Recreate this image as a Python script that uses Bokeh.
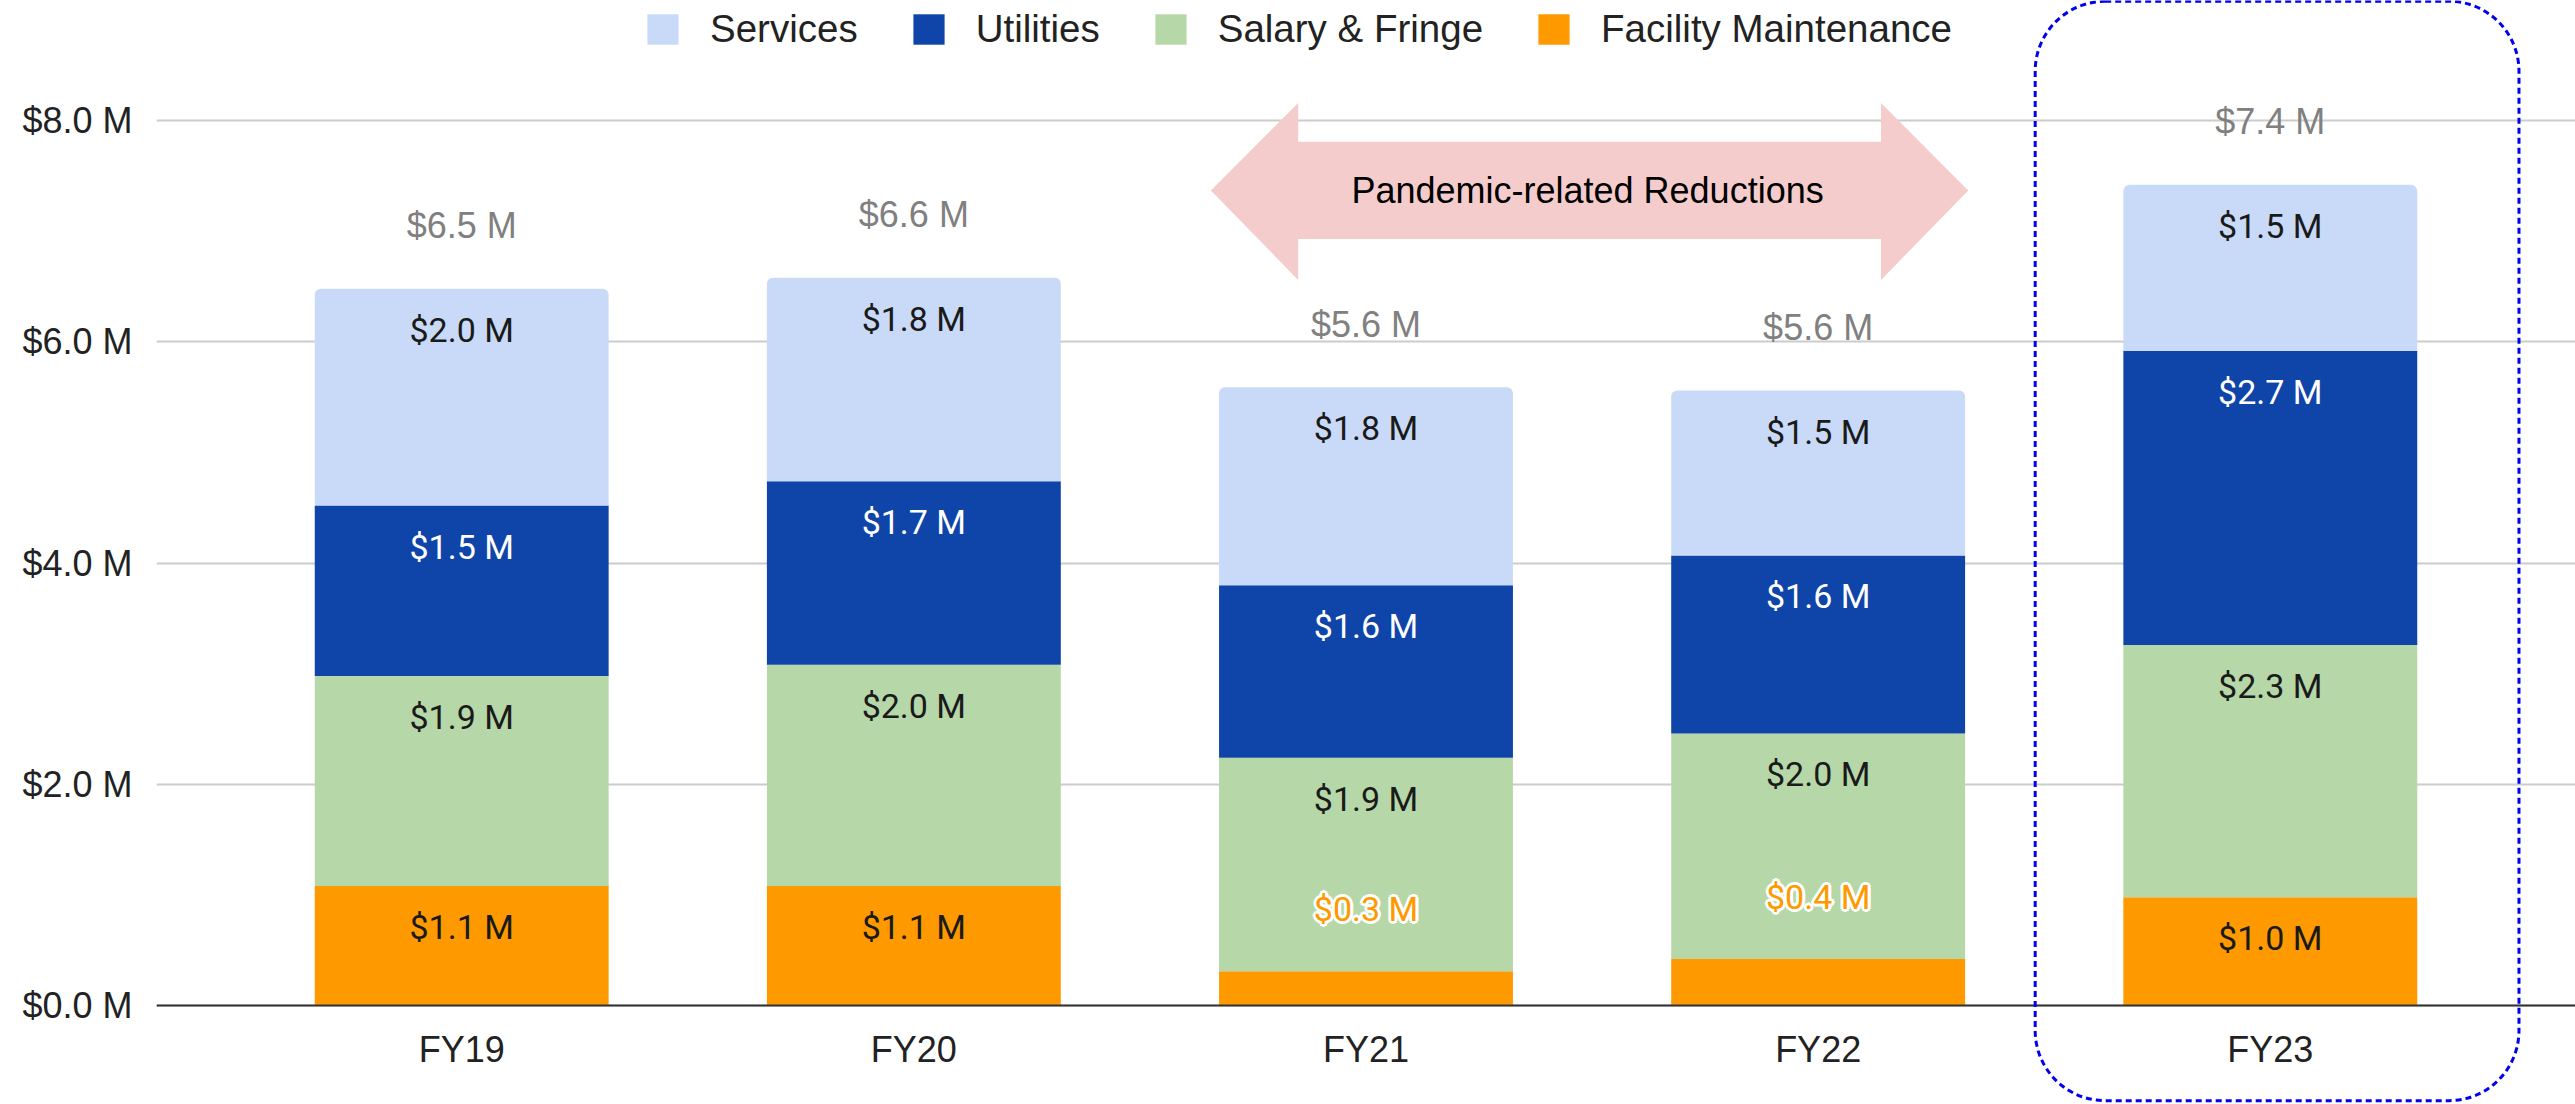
import pandas as pd
from bokeh.plotting import figure
from bokeh.models import (ColumnDataSource, Range1d, FixedTicker, PrintfTickFormatter,
                          Legend, LegendItem, BoxAnnotation)
from bokeh.core.properties import value
from bokeh.embed import file_html
from bokeh.resources import INLINE

# ---------------- data ----------------
years = ["FY19", "FY20", "FY21", "FY22", "FY23"]
facility = [1.08, 1.08, 0.31, 0.42, 0.98]
salary = [1.90, 2.00, 1.93, 2.04, 2.28]
utilities = [1.54, 1.66, 1.56, 1.61, 2.66]
services = [1.96, 1.84, 1.79, 1.49, 1.50]
series_names = ["Facility Maintenance", "Salary & Fringe", "Utilities", "Services"]
y_ticks = [0, 2, 4, 6, 8]
arrow_text = "Pandemic-related Reductions"

# ---------------- styles ----------------
colors = ["#ff9900", "#b6d7a8", "#0f44a8", "#c9daf8"]
label_colors = ["#1a1a1a", "#1a1a1a", "#ffffff", "#1a1a1a"]
FONT = "Liberation Sans"

xs = list(range(len(years)))
df = pd.DataFrame({"x": xs, "year": years,
                   series_names[0]: facility, series_names[1]: salary,
                   series_names[2]: utilities, series_names[3]: services})
src = ColumnDataSource(df)

p = figure(width=2575, height=1104, output_backend="svg", toolbar_location=None,
           x_range=Range1d(-0.675, 4.675), y_range=Range1d(-0.895, 9.087),
           min_border=0, min_border_left=156, min_border_bottom=0,
           min_border_top=0, min_border_right=0)
p.outline_line_color = None
p.background_fill_color = "white"
p.border_fill_color = "white"

# grid
p.xgrid.visible = False
p.ygrid.grid_line_color = "#cccccc"
p.ygrid.grid_line_width = 2
p.ygrid.ticker = FixedTicker(ticks=y_ticks)

# y axis
p.yaxis.ticker = FixedTicker(ticks=y_ticks)
p.yaxis.formatter = PrintfTickFormatter(format="$%.1f M")
p.yaxis.axis_line_color = None
p.yaxis.major_tick_line_color = None
p.yaxis.minor_tick_line_color = None
p.yaxis.major_label_standoff = 18
p.yaxis.major_label_text_font = FONT
p.yaxis.major_label_text_font_size = "36px"
p.yaxis.major_label_text_color = "#222222"

# x axis (fixed at the zero line)
p.xaxis.fixed_location = 0
p.xaxis.ticker = FixedTicker(ticks=xs)
p.xaxis.major_label_overrides = {i: y for i, y in zip(xs, years)}
p.xaxis.axis_line_color = "#333333"
p.xaxis.axis_line_width = 2
p.xaxis.major_tick_line_color = None
p.xaxis.minor_tick_line_color = None
p.xaxis.major_label_standoff = 17
p.xaxis.major_label_text_font = FONT
p.xaxis.major_label_text_font_size = "36px"
p.xaxis.major_label_text_color = "#222222"

# stacked bars
renderers = p.vbar_stack(series_names, x="x", width=0.65, color=colors,
                         line_color=None, source=src)
try:
    renderers[-1].glyph.border_radius = (6, 6, 0, 0)
except Exception:
    pass

# segment labels
lx, ly, lt, lc, lo = [], [], [], [], []
hx, hy, ht = [], [], []
cum = [0.0] * len(years)
for name, col in zip(series_names, label_colors):
    vals = df[name].tolist()
    for i, v in enumerate(vals):
        top = cum[i] + v
        txt = f"${v:.1f} M"
        lx.append(xs[i]); ly.append(top); lt.append(txt)
        if v < 0.5:
            lc.append("#ff9900"); lo.append(-62)
            hx.append(xs[i]); hy.append(top); ht.append(txt)
        else:
            lc.append(col); lo.append(41)
        cum[i] = top

# white halo behind labels placed above their (too small) segment
halo_src = ColumnDataSource(dict(x=hx, y=hy, text=ht))
for dx, dy in [(-3, 0), (3, 0), (0, -3), (0, 3), (-2, -2), (2, -2), (-2, 2), (2, 2)]:
    p.text(x="x", y="y", text="text", source=halo_src, x_offset=dx, y_offset=-62 + dy,
           text_align="center", text_baseline="middle", text_color="white",
           text_font=value("Roboto"), text_font_size="34px")

lab_src = ColumnDataSource(dict(x=lx, y=ly, text=lt, color=lc, off=lo))
p.text(x="x", y="y", text="text", text_color="color", y_offset="off", source=lab_src,
       text_align="center", text_baseline="middle",
       text_font=value("Roboto"), text_font_size="34px")

# totals
totals = [round(a + b + c + d, 2) for a, b, c, d in zip(facility, salary, utilities, services)]
tot_src = ColumnDataSource(dict(x=xs, y=totals, text=[f"${t:.1f} M" for t in totals]))
p.text(x="x", y="y", text="text", source=tot_src, y_offset=-63,
       text_align="center", text_baseline="middle", text_color="#808080",
       text_font=value(FONT), text_font_size="36px")

# pandemic arrow (between FY21 and FY22)
ax = [1.657, 1.85, 1.85, 3.139, 3.139, 3.332, 3.139, 3.139, 1.85, 1.85]
ay = [7.37, 8.16, 7.81, 7.81, 8.16, 7.37, 6.56, 6.93, 6.93, 6.56]
p.patch(ax, ay, fill_color="#f4cccc", line_color=None)
p.text(x=[2.49], y=[7.37], text=[arrow_text], text_align="center", text_baseline="middle",
       text_color="#000000", text_font=value(FONT), text_font_size="36px")

# dashed highlight around FY23
box = BoxAnnotation(left=4 - 0.52, right=4 + 0.55, bottom=-0.86, top=9.08,
                    fill_alpha=0, line_color="#0000ee", line_alpha=1.0, line_width=3,
                    line_dash="6 4", border_radius=70)
p.add_layout(box)

# legend
items = [LegendItem(label=n, renderers=[r]) for n, r in zip(series_names, renderers)][::-1]
legend = Legend(items=items, orientation="horizontal", location=(487, 1053),
                glyph_width=39, glyph_height=38, label_height=38, label_standoff=28,
                spacing=51, padding=0, margin=0, border_line_color=None,
                background_fill_alpha=0, label_text_font=FONT,
                label_text_font_size="38.5px", label_text_color="#222222")
p.add_layout(legend)

open("out.html", "w").write(file_html(p, INLINE))
